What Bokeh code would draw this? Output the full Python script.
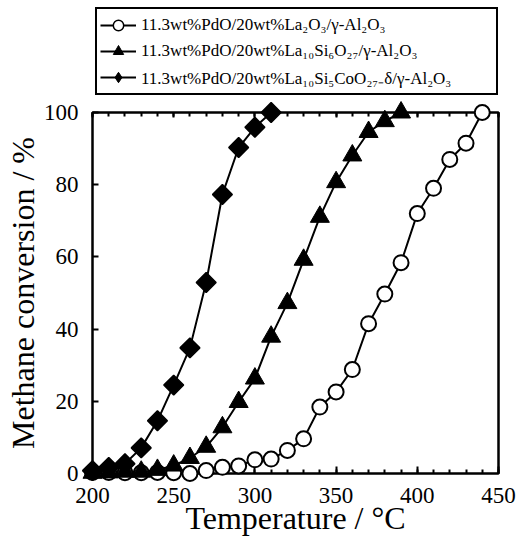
from bokeh.plotting import figure
from bokeh.models import Range1d, LinearAxis, FixedTicker, Legend, LegendItem
from bokeh.layouts import column
from bokeh.embed import file_html
from bokeh.resources import INLINE

# ---- data ----
temp_la2o3 = [200, 210, 220, 230, 240, 250, 260, 270, 280, 290, 300, 310, 320,
              330, 340, 350, 360, 370, 380, 390, 400, 410, 420, 430, 440]
conv_la2o3 = [0.3, 0.3, 0.2, 0.2, 0.3, 0.2, 0.0, 0.8, 1.7, 2.1, 3.8, 4.0, 6.4,
              9.6, 18.4, 22.6, 28.8, 41.5, 49.7, 58.4, 72.0, 79.0, 87.0, 91.5, 100.0]

temp_lasi = [200, 210, 220, 230, 240, 250, 260, 270, 280, 290, 300, 310, 320,
             330, 340, 350, 360, 370, 380, 390]
conv_lasi = [0.2, 0.3, 0.5, 0.5, 1.0, 2.2, 4.3, 7.4, 12.8, 19.8, 26.3, 37.9, 47.2,
             59.2, 71.1, 80.7, 88.1, 94.6, 97.6, 100.0]

temp_lasico = [200, 210, 220, 230, 240, 250, 260, 270, 280, 290, 300, 310]
conv_lasico = [0.8, 1.7, 2.7, 7.1, 14.6, 24.5, 34.8, 52.9, 77.3, 90.3, 95.9, 100.0]

series_labels = [
    "11.3wt%PdO/20wt%La₂O₃/γ-Al₂O₃",
    "11.3wt%PdO/20wt%La₁₀Si₆O₂₇/γ-Al₂O₃",
    "11.3wt%PdO/20wt%La₁₀Si₅CoO₂₇₋δ/γ-Al₂O₃",
]

x_major_ticks = [200, 250, 300, 350, 400, 450]
x_minor_ticks = [200, 210, 220, 230, 240, 250, 260, 270, 280, 290, 300, 310, 320,
                 330, 340, 350, 360, 370, 380, 390, 400, 410, 420, 430, 440, 450]
y_ticks = [0, 20, 40, 60, 80, 100]

x_title = "Temperature / °C"
y_title = "Methane conversion / %"

FONT = "Liberation Serif"

# ---------------- legend strip (above the plot) ----------------
# The key glyphs reuse the data, but the strip's ranges keep them out of view,
# so only the legend keys are seen.
lg = figure(width=519, height=96, output_backend="svg", toolbar_location=None,
            x_range=Range1d(0, 1), y_range=Range1d(-3, -2),
            x_axis_type=None, y_axis_type=None,
            min_border_left=92, min_border_right=21, min_border_top=0, min_border_bottom=0)
lg.grid.visible = False
lg.outline_line_color = None
lg.background_fill_color = "white"
lg.border_fill_color = "white"

k1l = lg.line(temp_la2o3, conv_la2o3, line_color="black", line_width=2)
k1s = lg.scatter(temp_la2o3, conv_la2o3, marker="circle", fill_color="white",
                 line_color="black", line_width=1.5)
k2l = lg.line(temp_lasi, conv_lasi, line_color="black", line_width=2)
k2s = lg.scatter(temp_lasi, conv_lasi, marker="triangle", fill_color="black",
                 line_color="black", line_width=1)
k3l = lg.line(temp_lasico, conv_lasico, line_color="black", line_width=2)
k3s = lg.scatter(temp_lasico, conv_lasico, marker="diamond", fill_color="black",
                 line_color="black", line_width=1)

legend = Legend(items=[LegendItem(label=series_labels[0], renderers=[k1l, k1s]),
                       LegendItem(label=series_labels[1], renderers=[k2l, k2s]),
                       LegendItem(label=series_labels[2], renderers=[k3l, k3s])],
                location=(3, 1), orientation="vertical",
                border_line_color="black", border_line_width=2, border_line_alpha=1,
                background_fill_color="white", background_fill_alpha=1,
                label_text_font=FONT, label_text_font_size="17px",
                label_text_color="black",
                glyph_width=36, glyph_height=26, label_height=24, label_width=352,
                spacing=0, padding=3, label_standoff=5, margin=0)
lg.add_layout(legend)

# ---------------- main plot ----------------
p = figure(width=519, height=447, output_backend="svg", toolbar_location=None,
           x_range=Range1d(200, 450), y_range=Range1d(0, 100),
           x_axis_type=None, y_axis_type=None,
           min_border_left=92, min_border_right=21, min_border_top=16,
           min_border_bottom=70)
p.grid.visible = False
p.outline_line_color = "black"
p.outline_line_width = 2.5
p.background_fill_color = "white"
p.border_fill_color = "white"

tick_style = dict(axis_line_color=None, major_tick_out=0, minor_tick_out=0,
                  major_tick_line_width=2, minor_tick_line_width=2,
                  major_tick_line_color="black", minor_tick_line_color="black")

bx = LinearAxis(ticker=FixedTicker(ticks=x_major_ticks, minor_ticks=x_minor_ticks),
                axis_label=x_title,
                major_label_text_font=FONT, major_label_text_font_size="23px",
                major_label_text_color="black",
                axis_label_text_font=FONT, axis_label_text_font_size="32px",
                axis_label_text_font_style="normal", axis_label_text_color="black",
                major_tick_in=7, minor_tick_in=4,
                major_label_standoff=14, axis_label_standoff=-6, **tick_style)
p.add_layout(bx, "below")

ly = LinearAxis(ticker=FixedTicker(ticks=y_ticks, minor_ticks=[]),
                axis_label=y_title,
                major_label_text_font=FONT, major_label_text_font_size="23px",
                major_label_text_color="black",
                axis_label_text_font=FONT, axis_label_text_font_size="32px",
                axis_label_text_font_style="normal", axis_label_text_color="black",
                major_tick_in=6, minor_tick_in=0,
                major_label_standoff=14, axis_label_standoff=0, **tick_style)
p.add_layout(ly, "left")

top = LinearAxis(ticker=FixedTicker(ticks=x_major_ticks, minor_ticks=x_minor_ticks),
                 major_label_text_font=FONT, major_label_text_font_size="1px",
                 major_label_text_color=None,
                 major_tick_in=5, minor_tick_in=4, major_label_standoff=0, **tick_style)
p.add_layout(top, "above")

p.line(temp_la2o3, conv_la2o3, line_color="black", line_width=2)
p.line(temp_lasi, conv_lasi, line_color="black", line_width=2)
p.line(temp_lasico, conv_lasico, line_color="black", line_width=2)
p.scatter(temp_la2o3, conv_la2o3, marker="circle", size=15, level="overlay",
          fill_color="white", line_color="black", line_width=2)
p.scatter(temp_lasi, conv_lasi, marker="triangle", size=19, level="overlay",
          fill_color="black", line_color="black", line_width=1)
p.scatter(temp_lasico, conv_lasico, marker="square", angle=0.785398, size=14,
          level="overlay", fill_color="black", line_color="black", line_width=1.5)

layout = column(lg, p, spacing=0)
open("out.html", "w").write(file_html(layout, INLINE))
